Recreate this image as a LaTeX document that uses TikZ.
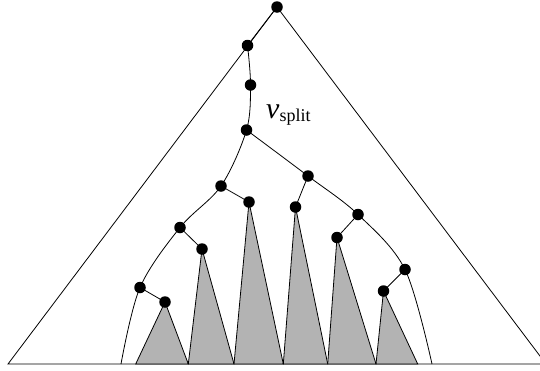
\documentclass[tikz,border=0pt]{standalone}
\usepackage{fontspec}
\setmainfont{Liberation Serif}
\usetikzlibrary{backgrounds}
\begin{document}
\begin{tikzpicture}[x=1pt,y=-1pt,
  edge/.style={line width=0.8pt},
  dot/.style={circle,fill=black,inner sep=0pt,minimum size=11.5pt},
  subtree/.style={edge,draw=black,fill={rgb,255:red,179;green,179;blue,179},line join=miter}]
\clip (0,0) rectangle (540,370);

% outer triangle corners and base points
\coordinate (top) at (277,7);
\coordinate (bl) at (8,364);
\coordinate (br) at (546,364);
\coordinate (le) at (121,364);
\coordinate (re) at (432,364);
\foreach \n/\x in {b0/135.7,b1/188.3,b2/234,b3/283.3,b4/327.7,b5/376,b6/417.7}
  \coordinate (\n) at (\x,364);

% tree vertices
\node[dot] (r) at (277,7) {};
\node[dot] (a) at (247.5,45.5) {};
\node[dot] (b) at (250.5,85) {};
\node[dot] (s) at (246.5,130) {};
\node[dot] (L1) at (221,186) {};
\node[dot] (L1c) at (249,202) {};
\node[dot] (L2) at (180,227.5) {};
\node[dot] (L2c) at (202,249) {};
\node[dot] (L3) at (140,287.5) {};
\node[dot] (L3c) at (165,302) {};
\node[dot] (R1) at (308,176) {};
\node[dot] (R1c) at (295.5,207) {};
\node[dot] (R2) at (358,214.5) {};
\node[dot] (R2c) at (337,237.5) {};
\node[dot] (R3) at (405,269.5) {};
\node[dot] (R3c) at (383.5,291) {};

\node[anchor=base west,inner sep=0pt] (lab) at (266,118)
  {\fontsize{30}{30}\selectfont\textit{v}\raisebox{-3.5pt}{\fontsize{18}{18}\selectfont split}};

\begin{pgfonlayer}{background}
\fill[white] (0,0) rectangle (540,370);
\begin{scope}[edge]
% big triangle
\draw (top) -- (bl) -- (br) -- cycle;

% grey subtrees
\draw[subtree] (L3c.center) -- (b0) -- (b1) -- cycle;
\draw[subtree] (L2c.center) -- (b1) -- (b2) -- cycle;
\draw[subtree] (L1c.center) -- (b2) -- (b3) -- cycle;
\draw[subtree] (R1c.center) -- (b3) -- (b4) -- cycle;
\draw[subtree] (R2c.center) -- (b4) -- (b5) -- cycle;
\draw[subtree] (R3c.center) -- (b5) -- (b6) -- cycle;

% search paths
\draw (r.center) -- (a.center);
\draw plot[smooth,tension=0.55] coordinates {(a.center) (b.center) (s.center) (L1.center) (L2.center) (L3.center) (le)};
\draw plot[smooth,tension=0.55] coordinates {(s.center) (R1.center) (R2.center) (R3.center) (re)};
\foreach \p/\c in {L1/L1c,L2/L2c,L3/L3c,R1/R1c,R2/R2c,R3/R3c}
  \draw (\p.center) -- (\c.center);
\end{scope}
\end{pgfonlayer}
\end{tikzpicture}
\end{document}
